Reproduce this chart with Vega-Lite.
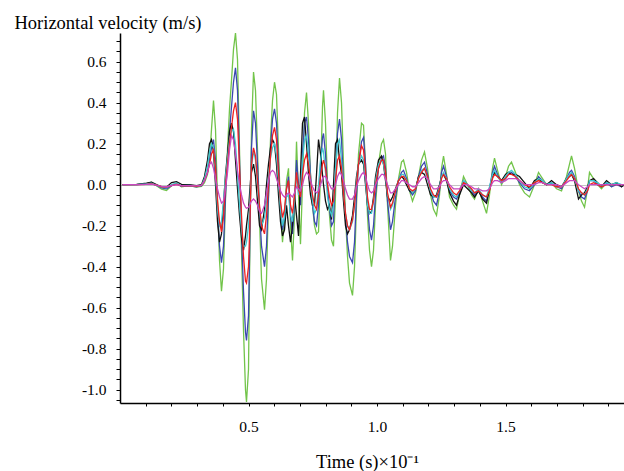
{
"$schema": "https://vega.github.io/schema/vega-lite/v6.json",
"width": 504, "height": 370,
"autosize": {"type": "none"},
"padding": {"left": 120, "top": 33, "right": 0, "bottom": 68},
"background": "white",
"config": {"view": {"stroke": null}},
"data": {"values": [
{"t":0.0097,"g":0,"b":0,"k":0,"c":0,"r":0,"m":0},
{"t":0.0642,"g":0,"b":0,"k":0.002,"c":0,"r":0,"m":0},
{"t":0.1031,"g":0.005,"b":0.003,"k":0.008,"c":0.004,"r":0.002,"m":0.002},
{"t":0.1226,"g":0.012,"b":0.006,"k":0.012,"c":0.008,"r":0.004,"m":0.003},
{"t":0.1420,"g":-0.005,"b":-0.004,"k":0,"c":-0.003,"r":-0.002,"m":-0.002},
{"t":0.1615,"g":-0.022,"b":-0.015,"k":-0.01,"c":-0.012,"r":-0.01,"m":-0.008},
{"t":0.1809,"g":-0.028,"b":-0.02,"k":-0.012,"c":-0.015,"r":-0.012,"m":-0.01},
{"t":0.2004,"g":-0.005,"b":-0.005,"k":0.01,"c":0,"r":-0.004,"m":-0.004},
{"t":0.2198,"g":0.008,"b":0.005,"k":0.015,"c":0.008,"r":0.002,"m":0},
{"t":0.2393,"g":-0.01,"b":-0.008,"k":0.002,"c":-0.005,"r":-0.006,"m":-0.005},
{"t":0.2704,"g":-0.005,"b":-0.006,"k":0,"c":-0.004,"r":-0.005,"m":-0.005},
{"t":0.2977,"g":-0.012,"b":-0.01,"k":-0.005,"c":-0.008,"r":-0.008,"m":-0.006},
{"t":0.3171,"g":-0.008,"b":-0.005,"k":0,"c":-0.004,"r":-0.004,"m":-0.003},
{"t":0.3288,"g":0.01,"b":0.02,"k":0.04,"c":0.03,"r":0.02,"m":0.02},
{"t":0.3405,"g":0.05,"b":0.06,"k":0.12,"c":0.09,"r":0.06,"m":0.06},
{"t":0.3482,"g":0.12,"b":0.12,"k":0.2,"c":0.16,"r":0.1,"m":0.1},
{"t":0.3560,"g":0.27,"b":0.18,"k":0.22,"c":0.2,"r":0.15,"m":0.11},
{"t":0.3638,"g":0.41,"b":0.22,"k":0.16,"c":0.18,"r":0.17,"m":0.08},
{"t":0.3716,"g":0.27,"b":0.12,"k":0,"c":0.05,"r":0.08,"m":0.03},
{"t":0.3794,"g":-0.07,"b":-0.12,"k":-0.18,"c":-0.12,"r":-0.08,"m":-0.02},
{"t":0.3872,"g":-0.37,"b":-0.3,"k":-0.28,"c":-0.2,"r":-0.18,"m":-0.06},
{"t":0.3949,"g":-0.52,"b":-0.38,"k":-0.24,"c":-0.18,"r":-0.23,"m":-0.09},
{"t":0.4027,"g":-0.41,"b":-0.3,"k":-0.1,"c":-0.08,"r":-0.16,"m":-0.08},
{"t":0.4105,"g":-0.07,"b":-0.05,"k":0.05,"c":0.04,"r":0,"m":-0.02},
{"t":0.4183,"g":0.17,"b":0.12,"k":0.15,"c":0.13,"r":0.1,"m":0.06},
{"t":0.4261,"g":0.37,"b":0.26,"k":0.26,"c":0.22,"r":0.2,"m":0.17},
{"t":0.4339,"g":0.51,"b":0.38,"k":0.3,"c":0.26,"r":0.28,"m":0.24},
{"t":0.4416,"g":0.66,"b":0.5,"k":0.26,"c":0.27,"r":0.36,"m":0.22},
{"t":0.4494,"g":0.74,"b":0.57,"k":0.12,"c":0.2,"r":0.4,"m":0.15},
{"t":0.4572,"g":0.61,"b":0.46,"k":-0.02,"c":0.05,"r":0.32,"m":0.07},
{"t":0.4650,"g":0.17,"b":0.12,"k":-0.15,"c":-0.1,"r":0.08,"m":0},
{"t":0.4728,"g":-0.32,"b":-0.24,"k":-0.26,"c":-0.22,"r":-0.15,"m":-0.05},
{"t":0.4805,"g":-0.71,"b":-0.52,"k":-0.32,"c":-0.3,"r":-0.35,"m":-0.09},
{"t":0.4883,"g":-1.0,"b":-0.72,"k":-0.25,"c":-0.3,"r":-0.47,"m":-0.11},
{"t":0.4922,"g":-1.06,"b":-0.76,"k":-0.2,"c":-0.28,"r":-0.48,"m":-0.115},
{"t":0.5000,"g":-0.9,"b":-0.64,"k":-0.12,"c":-0.2,"r":-0.4,"m":-0.11},
{"t":0.5039,"g":-0.46,"b":-0.36,"k":-0.05,"c":-0.12,"r":-0.25,"m":-0.1},
{"t":0.5078,"g":-0.07,"b":-0.06,"k":0.02,"c":-0.02,"r":-0.06,"m":-0.09},
{"t":0.5117,"g":0.27,"b":0.18,"k":0.06,"c":0.08,"r":0.1,"m":-0.08},
{"t":0.5195,"g":0.55,"b":0.36,"k":0.1,"c":0.17,"r":0.18,"m":-0.07},
{"t":0.5272,"g":0.46,"b":0.3,"k":0.04,"c":0.12,"r":0.14,"m":-0.08},
{"t":0.5350,"g":0.17,"b":0.1,"k":-0.08,"c":0,"r":0.02,"m":-0.1},
{"t":0.5428,"g":-0.17,"b":-0.12,"k":-0.2,"c":-0.12,"r":-0.1,"m":-0.13},
{"t":0.5506,"g":-0.46,"b":-0.3,"k":-0.22,"c":-0.2,"r":-0.2,"m":-0.14},
{"t":0.5623,"g":-0.61,"b":-0.4,"k":-0.12,"c":-0.16,"r":-0.24,"m":-0.1},
{"t":0.5700,"g":-0.46,"b":-0.3,"k":0,"c":-0.08,"r":-0.15,"m":-0.04},
{"t":0.5778,"g":-0.07,"b":-0.05,"k":0.1,"c":0.04,"r":0,"m":0.02},
{"t":0.5856,"g":0.22,"b":0.18,"k":0.18,"c":0.13,"r":0.14,"m":0.06},
{"t":0.5934,"g":0.41,"b":0.32,"k":0.22,"c":0.18,"r":0.24,"m":0.07},
{"t":0.6012,"g":0.5,"b":0.37,"k":0.2,"c":0.2,"r":0.28,"m":0.06},
{"t":0.6089,"g":0.44,"b":0.3,"k":0.1,"c":0.14,"r":0.22,"m":0.03},
{"t":0.6167,"g":0.17,"b":0.1,"k":-0.05,"c":0.02,"r":0.06,"m":0},
{"t":0.6245,"g":-0.12,"b":-0.1,"k":-0.18,"c":-0.12,"r":-0.08,"m":-0.03},
{"t":0.6323,"g":-0.28,"b":-0.22,"k":-0.25,"c":-0.2,"r":-0.16,"m":-0.05},
{"t":0.6401,"g":-0.17,"b":-0.16,"k":-0.22,"c":-0.16,"r":-0.12,"m":-0.06},
{"t":0.6479,"g":0.02,"b":-0.02,"k":-0.1,"c":-0.06,"r":-0.02,"m":-0.05},
{"t":0.6556,"g":0.08,"b":0.04,"k":-0.2,"c":-0.05,"r":0.02,"m":-0.04},
{"t":0.6634,"g":-0.2,"b":-0.15,"k":-0.28,"c":-0.15,"r":-0.1,"m":-0.05},
{"t":0.6712,"g":-0.37,"b":-0.24,"k":-0.2,"c":-0.18,"r":-0.14,"m":-0.06},
{"t":0.6790,"g":-0.15,"b":-0.1,"k":-0.05,"c":-0.08,"r":-0.06,"m":-0.04},
{"t":0.6868,"g":0.21,"b":0.12,"k":-0.15,"c":0.05,"r":0.06,"m":-0.01},
{"t":0.6946,"g":-0.05,"b":0,"k":-0.25,"c":-0.05,"r":-0.02,"m":-0.02},
{"t":0.7023,"g":-0.29,"b":-0.1,"k":0.05,"c":-0.02,"r":-0.06,"m":-0.03},
{"t":0.7101,"g":0,"b":0.15,"k":0.3,"c":0.12,"r":0.05,"m":0},
{"t":0.7179,"g":0.35,"b":0.3,"k":0.33,"c":0.22,"r":0.12,"m":0.04},
{"t":0.7257,"g":0.45,"b":0.33,"k":0.2,"c":0.24,"r":0.15,"m":0.06},
{"t":0.7335,"g":0.3,"b":0.22,"k":0.05,"c":0.15,"r":0.1,"m":0.05},
{"t":0.7412,"g":0.05,"b":0.05,"k":-0.05,"c":0.02,"r":0.02,"m":0.02},
{"t":0.7490,"g":-0.1,"b":-0.1,"k":-0.1,"c":-0.08,"r":-0.05,"m":-0.01},
{"t":0.7568,"g":-0.2,"b":-0.18,"k":-0.1,"c":-0.14,"r":-0.1,"m":-0.03},
{"t":0.7646,"g":-0.24,"b":-0.2,"k":0.05,"c":-0.12,"r":-0.12,"m":-0.04},
{"t":0.7724,"g":-0.23,"b":-0.1,"k":0.22,"c":0,"r":-0.05,"m":-0.03},
{"t":0.7802,"g":0.05,"b":0.1,"k":0.15,"c":0.12,"r":0.04,"m":0},
{"t":0.7879,"g":0.38,"b":0.23,"k":0.05,"c":0.18,"r":0.1,"m":0.03},
{"t":0.7918,"g":0.46,"b":0.25,"k":0,"c":0.16,"r":0.12,"m":0.04},
{"t":0.7996,"g":0.3,"b":0.15,"k":-0.08,"c":0.06,"r":0.08,"m":0.04},
{"t":0.8074,"g":0,"b":-0.02,"k":-0.12,"c":-0.06,"r":0,"m":0.02},
{"t":0.8152,"g":-0.15,"b":-0.12,"k":-0.1,"c":-0.12,"r":-0.06,"m":0},
{"t":0.8230,"g":-0.27,"b":-0.2,"k":-0.17,"c":-0.15,"r":-0.1,"m":-0.02},
{"t":0.8307,"g":-0.3,"b":-0.18,"k":0,"c":-0.1,"r":-0.08,"m":-0.02},
{"t":0.8385,"g":-0.05,"b":0.05,"k":0.2,"c":0.08,"r":0.02,"m":0},
{"t":0.8463,"g":0.35,"b":0.25,"k":0.22,"c":0.2,"r":0.12,"m":0.04},
{"t":0.8541,"g":0.52,"b":0.32,"k":0.12,"c":0.22,"r":0.14,"m":0.06},
{"t":0.8619,"g":0.4,"b":0.22,"k":0.05,"c":0.12,"r":0.08,"m":0.05},
{"t":0.8696,"g":0.1,"b":0,"k":-0.08,"c":-0.04,"r":-0.04,"m":0.02},
{"t":0.8774,"g":-0.15,"b":-0.16,"k":-0.2,"c":-0.14,"r":-0.14,"m":-0.02},
{"t":0.8852,"g":-0.35,"b":-0.28,"k":-0.24,"c":-0.2,"r":-0.2,"m":-0.05},
{"t":0.8930,"g":-0.48,"b":-0.35,"k":-0.22,"c":-0.22,"r":-0.22,"m":-0.07},
{"t":0.9047,"g":-0.54,"b":-0.38,"k":-0.15,"c":-0.18,"r":-0.17,"m":-0.07},
{"t":0.9125,"g":-0.4,"b":-0.28,"k":-0.06,"c":-0.1,"r":-0.1,"m":-0.05},
{"t":0.9202,"g":-0.1,"b":-0.05,"k":0.04,"c":0.02,"r":0,"m":-0.01},
{"t":0.9280,"g":0.15,"b":0.1,"k":0.1,"c":0.1,"r":0.1,"m":0.02},
{"t":0.9397,"g":0.3,"b":0.21,"k":0.12,"c":0.14,"r":0.19,"m":0.05},
{"t":0.9475,"g":0.29,"b":0.23,"k":0.1,"c":0.12,"r":0.17,"m":0.06},
{"t":0.9553,"g":0.1,"b":0.1,"k":0,"c":0.02,"r":0.06,"m":0.04},
{"t":0.9630,"g":-0.15,"b":-0.1,"k":-0.1,"c":-0.1,"r":-0.06,"m":0},
{"t":0.9708,"g":-0.32,"b":-0.22,"k":-0.14,"c":-0.14,"r":-0.12,"m":-0.03},
{"t":0.9786,"g":-0.4,"b":-0.27,"k":-0.13,"c":-0.14,"r":-0.12,"m":-0.04},
{"t":0.9864,"g":-0.32,"b":-0.2,"k":-0.06,"c":-0.08,"r":-0.08,"m":-0.03},
{"t":0.9942,"g":-0.1,"b":-0.05,"k":0.04,"c":0.02,"r":0,"m":0},
{"t":1.0058,"g":0.1,"b":0.08,"k":0.12,"c":0.1,"r":0.08,"m":0.03},
{"t":1.0175,"g":0.2,"b":0.13,"k":0.14,"c":0.12,"r":0.12,"m":0.05},
{"t":1.0253,"g":0.22,"b":0.14,"k":0.1,"c":0.1,"r":0.12,"m":0.05},
{"t":1.0331,"g":0.15,"b":0.08,"k":0.02,"c":0.04,"r":0.06,"m":0.03},
{"t":1.0409,"g":-0.1,"b":-0.08,"k":-0.06,"c":-0.05,"r":-0.04,"m":0},
{"t":1.0525,"g":-0.37,"b":-0.22,"k":-0.08,"c":-0.12,"r":-0.11,"m":-0.04},
{"t":1.0603,"g":-0.3,"b":-0.18,"k":-0.06,"c":-0.1,"r":-0.09,"m":-0.04},
{"t":1.0720,"g":-0.1,"b":-0.06,"k":-0.02,"c":-0.03,"r":-0.03,"m":-0.02},
{"t":1.0837,"g":0.03,"b":0.02,"k":0.02,"c":0.02,"r":0.02,"m":0},
{"t":1.0953,"g":0.11,"b":0.06,"k":0.04,"c":0.05,"r":0.04,"m":0.02},
{"t":1.1031,"g":0.12,"b":0.07,"k":0.03,"c":0.05,"r":0.04,"m":0.02},
{"t":1.1148,"g":0.06,"b":0.03,"k":0,"c":0.02,"r":0.02,"m":0.01},
{"t":1.1265,"g":-0.03,"b":-0.03,"k":-0.03,"c":-0.02,"r":-0.02,"m":0},
{"t":1.1381,"g":-0.08,"b":-0.05,"k":-0.04,"c":-0.04,"r":-0.03,"m":-0.01},
{"t":1.1498,"g":-0.04,"b":-0.03,"k":-0.02,"c":-0.02,"r":-0.02,"m":-0.01},
{"t":1.1615,"g":0.04,"b":0.04,"k":0.04,"c":0.03,"r":0.03,"m":0.01},
{"t":1.1732,"g":0.12,"b":0.09,"k":0.06,"c":0.07,"r":0.06,"m":0.03},
{"t":1.1848,"g":0.16,"b":0.11,"k":0.05,"c":0.08,"r":0.08,"m":0.04},
{"t":1.1965,"g":0.08,"b":0.05,"k":0,"c":0.03,"r":0.04,"m":0.03},
{"t":1.2082,"g":-0.05,"b":-0.03,"k":-0.05,"c":-0.03,"r":-0.02,"m":0},
{"t":1.2198,"g":-0.12,"b":-0.08,"k":-0.06,"c":-0.06,"r":-0.05,"m":-0.02},
{"t":1.2315,"g":-0.15,"b":-0.1,"k":-0.05,"c":-0.06,"r":-0.06,"m":-0.02},
{"t":1.2432,"g":-0.05,"b":-0.03,"k":0,"c":-0.01,"r":-0.02,"m":-0.01},
{"t":1.2510,"g":0.08,"b":0.06,"k":0.04,"c":0.04,"r":0.03,"m":0.01},
{"t":1.2588,"g":0.14,"b":0.09,"k":0.05,"c":0.06,"r":0.05,"m":0.02},
{"t":1.2704,"g":0.05,"b":0.04,"k":0.02,"c":0.03,"r":0.03,"m":0.02},
{"t":1.2821,"g":-0.06,"b":-0.03,"k":-0.04,"c":-0.02,"r":-0.01,"m":0},
{"t":1.2977,"g":-0.1,"b":-0.06,"k":-0.08,"c":-0.05,"r":-0.04,"m":-0.02},
{"t":1.3093,"g":-0.12,"b":-0.07,"k":-0.1,"c":-0.06,"r":-0.05,"m":-0.02},
{"t":1.3210,"g":-0.05,"b":-0.04,"k":-0.05,"c":-0.03,"r":-0.03,"m":-0.02},
{"t":1.3366,"g":0.04,"b":0.02,"k":0,"c":0.02,"r":0.01,"m":0},
{"t":1.3521,"g":0,"b":0,"k":-0.02,"c":0,"r":0,"m":0},
{"t":1.3677,"g":-0.05,"b":-0.03,"k":-0.04,"c":-0.03,"r":-0.02,"m":-0.01},
{"t":1.3794,"g":-0.07,"b":-0.05,"k":-0.06,"c":-0.04,"r":-0.04,"m":-0.02},
{"t":1.3949,"g":-0.02,"b":-0.03,"k":-0.03,"c":-0.02,"r":-0.03,"m":-0.02},
{"t":1.4105,"g":-0.08,"b":-0.06,"k":-0.07,"c":-0.05,"r":-0.05,"m":-0.03},
{"t":1.4261,"g":-0.14,"b":-0.08,"k":-0.09,"c":-0.06,"r":-0.06,"m":-0.03},
{"t":1.4377,"g":-0.05,"b":-0.02,"k":-0.02,"c":-0.01,"r":-0.03,"m":-0.02},
{"t":1.4494,"g":0.08,"b":0.06,"k":0.04,"c":0.05,"r":0.03,"m":0.01},
{"t":1.4572,"g":0.13,"b":0.09,"k":0.06,"c":0.07,"r":0.05,"m":0.02},
{"t":1.4689,"g":0.07,"b":0.05,"k":0.04,"c":0.04,"r":0.04,"m":0.02},
{"t":1.4844,"g":0,"b":0.01,"k":0.02,"c":0.01,"r":0.02,"m":0.01},
{"t":1.5000,"g":0.04,"b":0.03,"k":0.05,"c":0.04,"r":0.03,"m":0.02},
{"t":1.5117,"g":0.09,"b":0.05,"k":0.06,"c":0.06,"r":0.05,"m":0.03},
{"t":1.5233,"g":0.11,"b":0.06,"k":0.05,"c":0.07,"r":0.05,"m":0.03},
{"t":1.5389,"g":0.06,"b":0.04,"k":0.05,"c":0.05,"r":0.04,"m":0.03},
{"t":1.5545,"g":0,"b":0.01,"k":0.04,"c":0.02,"r":0.02,"m":0.02},
{"t":1.5739,"g":-0.04,"b":-0.02,"k":0.01,"c":-0.01,"r":0,"m":0},
{"t":1.5934,"g":-0.06,"b":-0.03,"k":-0.02,"c":-0.02,"r":-0.01,"m":0},
{"t":1.6128,"g":0,"b":0,"k":0.02,"c":0.01,"r":0.01,"m":0},
{"t":1.6284,"g":0.06,"b":0.04,"k":0.03,"c":0.03,"r":0.02,"m":0.01},
{"t":1.6440,"g":0.03,"b":0.02,"k":0.01,"c":0.02,"r":0.01,"m":0.01},
{"t":1.6595,"g":0,"b":0,"k":0,"c":0,"r":0,"m":0},
{"t":1.6790,"g":0.01,"b":0.01,"k":0.02,"c":0.01,"r":0,"m":0},
{"t":1.6984,"g":-0.02,"b":-0.01,"k":0,"c":-0.01,"r":-0.01,"m":0},
{"t":1.7179,"g":-0.03,"b":-0.02,"k":-0.01,"c":-0.01,"r":-0.01,"m":-0.01},
{"t":1.7374,"g":0.04,"b":0.03,"k":0.03,"c":0.03,"r":0.02,"m":0.01},
{"t":1.7490,"g":0.1,"b":0.06,"k":0.04,"c":0.05,"r":0.04,"m":0.02},
{"t":1.7568,"g":0.14,"b":0.07,"k":0.05,"c":0.06,"r":0.05,"m":0.02},
{"t":1.7685,"g":0.08,"b":0.04,"k":0.02,"c":0.03,"r":0.03,"m":0.02},
{"t":1.7840,"g":-0.03,"b":-0.03,"k":-0.07,"c":-0.03,"r":-0.02,"m":0},
{"t":1.7957,"g":-0.08,"b":-0.06,"k":-0.05,"c":-0.04,"r":-0.04,"m":-0.01},
{"t":1.8074,"g":-0.11,"b":-0.07,"k":-0.04,"c":-0.05,"r":-0.05,"m":-0.02},
{"t":1.8191,"g":-0.02,"b":-0.03,"k":-0.01,"c":-0.02,"r":-0.03,"m":-0.01},
{"t":1.8268,"g":0.06,"b":0.02,"k":0.02,"c":0.02,"r":0,"m":0},
{"t":1.8424,"g":0.03,"b":0.02,"k":0.03,"c":0.02,"r":0.01,"m":0},
{"t":1.8580,"g":0,"b":0,"k":0.01,"c":0.01,"r":0,"m":0},
{"t":1.8735,"g":-0.02,"b":-0.01,"k":-0.01,"c":-0.01,"r":-0.01,"m":0},
{"t":1.8930,"g":0.01,"b":0.01,"k":0.02,"c":0.01,"r":0,"m":0},
{"t":1.9125,"g":-0.01,"b":-0.01,"k":0,"c":0,"r":0,"m":0},
{"t":1.9319,"g":0.01,"b":0,"k":0.01,"c":0.01,"r":0,"m":0},
{"t":1.9514,"g":-0.01,"b":-0.01,"k":-0.01,"c":0,"r":0,"m":0},
{"t":1.9630,"g":0,"b":0,"k":0,"c":0,"r":0,"m":0}
]},
"transform": [{"fold": ["g", "b", "k", "c", "r", "m"], "as": ["series", "v"]}],
"mark": {"type": "line", "clip": true},
"encoding": {
 "x": {"field": "t", "type": "quantitative", "scale": {"domain": [0, 1.961], "nice": false, "zero": false},
  "axis": {"values": [0.1,0.2,0.3,0.4,0.5,0.6,0.7,0.8,0.9,1.0,1.1,1.2,1.3,1.4,1.5,1.6,1.7,1.8,1.9],
   "labelExpr": "round(datum.value*10) % 5 == 0 ? format(datum.value, '.1f') : ''",
   "labelOverlap": false, "labelBound": false,
   "title": "Time (s)×10⁻¹", "grid": false, "domainColor": "#000000", "domainWidth": 1.5, "tickColor": "#000000", "tickSize": 3,
   "labelPadding": 13, "labelFont": "Liberation Serif", "labelFontSize": 15.5, "labelColor": "#000000",
   "titleFont": "Liberation Serif", "titleFontSize": 18.5, "titleFontWeight": "normal", "titleColor": "#000000",
   "titleX": 247, "titleY": 58, "titleAlign": "center", "titleBaseline": "middle", "labelFlush": false}},
 "y": {"field": "v", "type": "quantitative", "scale": {"domain": [-1.065, 0.74], "nice": false, "zero": false},
  "axis": {"values": [-1.05,-1.0,-0.95,-0.9,-0.85,-0.8,-0.75,-0.7,-0.65,-0.6,-0.55,-0.5,-0.45,-0.4,-0.35,-0.3,-0.25,-0.2,-0.15,-0.1,-0.05,0,0.05,0.1,0.15,0.2,0.25,0.3,0.35,0.4,0.45,0.5,0.55,0.6,0.65,0.7],
   "labelExpr": "abs(round(datum.value*100)) % 20 == 0 ? replace(format(datum.value, '.1f'), '\u2212', '-') : ''",
   "labelOverlap": false, "labelBound": false,
   "title": "Horizontal velocity (m/s)", "titleAngle": 0, "titleX": -106, "titleY": -11, "titleAlign": "left", "titleBaseline": "middle",
   "grid": true, "gridColor": "#c4c4c4", "gridWidth": 1,
   "gridOpacity": {"condition": {"test": "datum.value == 0", "value": 1}, "value": 0},
   "domainColor": "#000000", "domainWidth": 1.5, "tickColor": "#000000", "tickSize": 4,
   "labelPadding": 10, "labelFont": "Liberation Serif", "labelFontSize": 15.5, "labelColor": "#000000",
   "titleFont": "Liberation Serif", "titleFontSize": 18.5, "titleFontWeight": "normal", "titleColor": "#000000", "labelFlush": false}},
 "color": {"field": "series", "type": "nominal", "legend": null,
  "scale": {"domain": ["g", "b", "k", "c", "r", "m"], "range": ["#72c44a", "#3a48b0", "#111111", "#40c8d0", "#ee2222", "#c848c0"]}},
 "strokeWidth": {"field": "series", "type": "nominal", "legend": null,
  "scale": {"domain": ["g", "b", "k", "c", "r", "m"], "range": [1.3, 1.3, 1.6, 1.3, 1.3, 1.3]}}
}
}
